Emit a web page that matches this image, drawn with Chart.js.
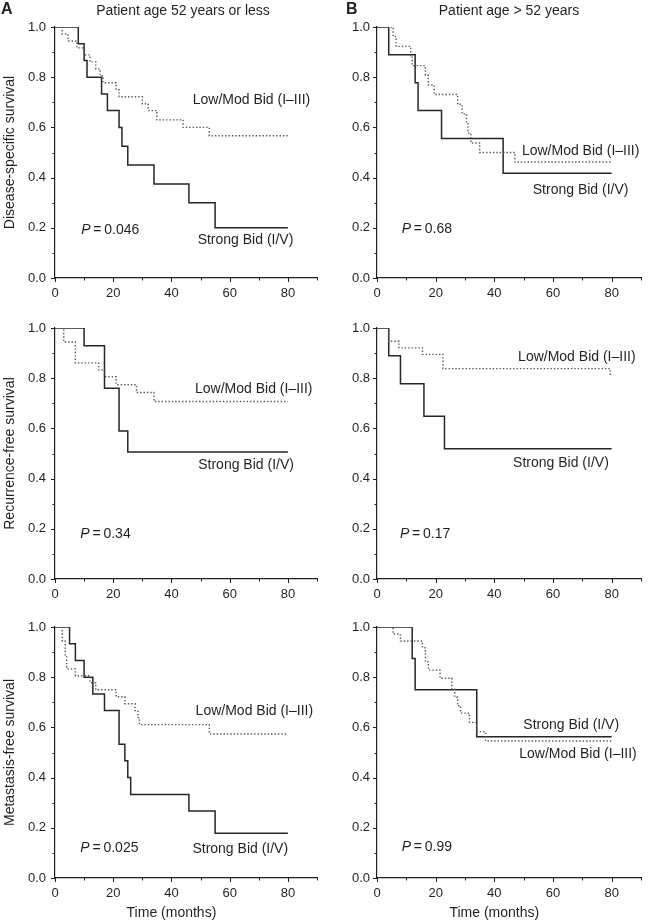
<!DOCTYPE html>
<html>
<head>
<meta charset="utf-8">
<script src="https://cdn.jsdelivr.net/npm/chart.js@4.4.1/dist/chart.umd.min.js"></script>
<style>
  body { margin: 0; background: #fff; }
  #wrap { position: relative; width: 649px; height: 924px; }
  canvas { position: absolute; }
</style>
</head>
<body>
<div id="wrap">
  <canvas id="dssYoung" width="325" height="300" style="left:0;top:0"></canvas>
  <canvas id="dssOld" width="324" height="300" style="left:325px;top:0"></canvas>
  <canvas id="rfsYoung" width="325" height="300" style="left:0;top:300px"></canvas>
  <canvas id="rfsOld" width="324" height="300" style="left:325px;top:300px"></canvas>
  <canvas id="mfsYoung" width="325" height="324" style="left:0;top:600px"></canvas>
  <canvas id="mfsOld" width="324" height="324" style="left:325px;top:600px"></canvas>
</div>
<script>
// survival curves, time in months / survival fraction
var dssYoungStrongT = [0, 8, 10, 11, 16, 18, 22, 23, 25, 34, 46, 55, 80];
var dssYoungStrongS = [1, 0.933, 0.867, 0.8, 0.733, 0.667, 0.6, 0.525, 0.45, 0.375, 0.3, 0.2, 0.2];
var dssYoungLowT = [0, 2.5, 4.5, 7.5, 10, 12, 14, 15.5, 16.5, 21, 22, 30, 32, 35, 44, 53, 80];
var dssYoungLowS = [1, 0.972, 0.944, 0.917, 0.889, 0.861, 0.833, 0.806, 0.778, 0.75, 0.722, 0.694, 0.667, 0.63, 0.6, 0.567, 0.567];

var dssOldStrongT = [0, 4, 13, 14, 22, 43, 80];
var dssOldStrongS = [1, 0.889, 0.778, 0.667, 0.556, 0.417, 0.417];
var dssOldLowT = [0, 5.5, 6.5, 11.5, 12, 16.5, 17.5, 19.5, 27.5, 29, 30.5, 31, 32, 35, 47, 80];
var dssOldLowS = [1, 0.962, 0.923, 0.885, 0.846, 0.808, 0.769, 0.731, 0.692, 0.654, 0.615, 0.577, 0.538, 0.5, 0.462, 0.462];

var rfsYoungStrongT = [0, 10, 17, 22, 25, 80];
var rfsYoungStrongS = [1, 0.929, 0.76, 0.59, 0.506, 0.506];
var rfsYoungLowT = [0, 3, 7, 15, 17, 21, 28, 34, 80];
var rfsYoungLowS = [1, 0.944, 0.861, 0.833, 0.806, 0.774, 0.743, 0.707, 0.707];

var rfsOldStrongT = [0, 4, 8, 16, 23, 80];
var rfsOldStrongS = [1, 0.889, 0.778, 0.648, 0.519, 0.519];
var rfsOldLowT = [0, 4, 7.5, 15.5, 22.5, 79.5, 80];
var rfsOldLowS = [1, 0.947, 0.921, 0.895, 0.838, 0.81, 0.81];

var mfsYoungStrongT = [0, 5, 7, 10, 13, 17, 22, 24, 25, 26, 46, 55, 80];
var mfsYoungStrongS = [1, 0.933, 0.867, 0.8, 0.733, 0.667, 0.533, 0.467, 0.4, 0.333, 0.267, 0.178, 0.178];
var mfsYoungLowT = [0, 2.5, 3.5, 4, 7, 12, 14, 21, 24, 27.5, 28.5, 29, 53, 80];
var mfsYoungLowS = [1, 0.944, 0.889, 0.833, 0.806, 0.778, 0.75, 0.722, 0.694, 0.667, 0.639, 0.611, 0.574, 0.574];

var mfsOldStrongT = [0, 12, 13, 34, 80];
var mfsOldStrongS = [1, 0.875, 0.75, 0.5625, 0.5625];
var mfsOldLowT = [0, 5.5, 8, 15.5, 16.5, 17.5, 21.5, 25.5, 26.5, 27.5, 28.5, 31.5, 34, 37, 80];
var mfsOldLowS = [1, 0.972, 0.944, 0.917, 0.861, 0.828, 0.796, 0.752, 0.72, 0.686, 0.657, 0.62, 0.583, 0.546, 0.546];

var pValues = ["0.046", "0.68", "0.34", "0.17", "0.025", "0.99"];
var xTickLabels = [0, 20, 40, 60, 80];

var FONT = '"Liberation Sans", Arial, Helvetica, sans-serif';
var INK = "#231f20";
Chart.defaults.font.family = FONT;
Chart.defaults.color = INK;

function toPoints(times, values) {
  return times.map(function(t, i) { return { x: t, y: values[i] }; });
}

// short minor ticks, longer major ticks, all pointing outward
var axisTicks = {
  id: "axisTicks",
  afterDraw: function(chart) {
    var ctx = chart.ctx, xs = chart.scales.x, ys = chart.scales.y;
    ctx.save();
    ctx.strokeStyle = INK;
    ctx.lineWidth = 1;
    ctx.beginPath();
    xs.ticks.forEach(function(t) {
      var px = Math.round(xs.getPixelForValue(t.value)) + 0.5;
      var len = xTickLabels.indexOf(t.value) !== -1 ? 4 : 2.5;
      ctx.moveTo(px, xs.top);
      ctx.lineTo(px, xs.top + len);
    });
    ys.ticks.forEach(function(t) {
      var py = Math.round(ys.getPixelForValue(t.value)) + 0.5;
      var len = Math.round(t.value * 10) % 2 === 0 ? 4 : 2.5;
      ctx.moveTo(ys.right, py);
      ctx.lineTo(ys.right - len, py);
    });
    ctx.stroke();
    ctx.restore();
  }
};

var panelText = {
  id: "panelText",
  afterDatasetsDraw: function(chart, args, opts) {
    var ctx = chart.ctx, xs = chart.scales.x, ys = chart.scales.y, area = chart.chartArea;
    ctx.save();
    ctx.fillStyle = INK;
    ctx.textBaseline = "middle";
    ctx.textAlign = "left";
    ctx.font = "bold 16px " + FONT;
    ctx.fillText(opts.letter || "", opts.letterX, 10);
    ctx.font = "14px " + FONT;
    if (opts.title) {
      ctx.textAlign = "center";
      ctx.fillText(opts.title, opts.titleX, 11);
    }
    if (opts.xTitle) {
      ctx.textAlign = "center";
      ctx.fillText(opts.xTitle, xs.getPixelForValue(40), area.bottom + 35);
    }
    if (opts.yTitle) {
      ctx.save();
      ctx.translate(10, (area.top + area.bottom) / 2);
      ctx.rotate(-Math.PI / 2);
      ctx.textAlign = "center";
      ctx.fillText(opts.yTitle, 0, 0);
      ctx.restore();
    }
    ctx.textAlign = "left";
    opts.labels.forEach(function(l) {
      ctx.fillText(l.text, xs.getPixelForValue(l.x), ys.getPixelForValue(l.y));
    });
    var px = xs.getPixelForValue(opts.p.x), py = ys.getPixelForValue(opts.p.y);
    ctx.font = "italic 14px " + FONT;
    ctx.fillText("P", px, py);
    var w = ctx.measureText("P").width;
    ctx.font = "14px " + FONT;
    ctx.fillText("\u2009=\u2009" + opts.p.value, px + w, py);
    ctx.restore();
  }
};

function makePanel(id, cfg) {
  var canvas = document.getElementById(id);
  var h = canvas.height;
  return new Chart(canvas, {
    type: "line",
    data: {
      datasets: [{
        label: "Low/Mod Bid (I\u2013III)",
        data: toPoints(cfg.lowT, cfg.lowS),
        stepped: true,
        borderColor: "#555555",
        borderWidth: 1.4,
        borderDash: [1.4, 2],
        pointRadius: 0,
        fill: false
      }, {
        label: "Strong Bid (I/V)",
        data: toPoints(cfg.strongT, cfg.strongS),
        stepped: true,
        borderColor: "#262626",
        borderWidth: 1.5,
        pointRadius: 0,
        fill: false
      }]
    },
    options: {
      responsive: false,
      animation: false,
      events: [],
      layout: { padding: { top: cfg.top, left: 0, right: cfg.right, bottom: 0 } },
      plugins: {
        legend: { display: false },
        tooltip: { enabled: false },
        panelText: cfg.text
      },
      scales: {
        x: {
          type: "linear",
          min: 0,
          max: 90,
          grid: { display: false, drawTicks: false },
          border: { display: true, color: INK, width: 1.2 },
          ticks: {
            stepSize: 10,
            autoSkip: false,
            maxRotation: 0,
            padding: 8,
            font: { size: 13 },
            callback: function(v) { return xTickLabels.indexOf(v) !== -1 ? String(v) : ""; }
          },
          afterFit: function(scale) { scale.height = h - cfg.bottom; }
        },
        y: {
          min: 0,
          max: 1,
          grid: { display: false, drawTicks: false },
          border: { display: true, color: INK, width: 1.2 },
          ticks: {
            stepSize: 0.1,
            autoSkip: false,
            padding: cfg.labelGap,
            font: { size: 13 },
            callback: function(v) { return Math.round(v * 10) % 2 === 0 ? v.toFixed(1) : ""; }
          },
          afterFit: function(scale) { scale.width = cfg.left; }
        }
      }
    },
    plugins: [axisTicks, panelText]
  });
}

var leftCol = { left: 55, right: 0, labelGap: 9 };
var rightCol = { left: 52, right: 2, labelGap: 7 };

function panel(col, extra) {
  var out = {};
  Object.keys(col).forEach(function(k) { out[k] = col[k]; });
  Object.keys(extra).forEach(function(k) { out[k] = extra[k]; });
  return out;
}

var lowLabel = "Low/Mod Bid (I\u2013III)";
var strongLabel = "Strong Bid (I/V)";

makePanel("dssYoung", panel(leftCol, {
  top: 27, bottom: 278,
  strongT: dssYoungStrongT, strongS: dssYoungStrongS, lowT: dssYoungLowT, lowS: dssYoungLowS,
  text: {
    letter: "A", letterX: 1, title: "Patient age 52 years or less", titleX: 183,
    yTitle: "Disease-specific survival",
    labels: [{ text: lowLabel, x: 47.3, y: 0.708 }, { text: strongLabel, x: 49, y: 0.15 }],
    p: { x: 9, y: 0.19, value: pValues[0] }
  }
}));

makePanel("dssOld", panel(rightCol, {
  top: 27, bottom: 278,
  strongT: dssOldStrongT, strongS: dssOldStrongS, lowT: dssOldLowT, lowS: dssOldLowS,
  text: {
    letter: "B", letterX: 21, title: "Patient age > 52 years", titleX: 184,
    labels: [{ text: lowLabel, x: 49.4, y: 0.505 }, { text: strongLabel, x: 53.1, y: 0.352 }],
    p: { x: 8.4, y: 0.193, value: pValues[1] }
  }
}));

makePanel("rfsYoung", panel(leftCol, {
  top: 28, bottom: 279,
  strongT: rfsYoungStrongT, strongS: rfsYoungStrongS, lowT: rfsYoungLowT, lowS: rfsYoungLowS,
  text: {
    yTitle: "Recurrence-free survival",
    labels: [{ text: lowLabel, x: 48.1, y: 0.755 }, { text: strongLabel, x: 49.2, y: 0.454 }],
    p: { x: 8.7, y: 0.179, value: pValues[2] }
  }
}));

makePanel("rfsOld", panel(rightCol, {
  top: 28, bottom: 279,
  strongT: rfsOldStrongT, strongS: rfsOldStrongS, lowT: rfsOldLowT, lowS: rfsOldLowS,
  text: {
    labels: [{ text: lowLabel, x: 48.1, y: 0.882 }, { text: strongLabel, x: 46.4, y: 0.46 }],
    p: { x: 7.8, y: 0.177, value: pValues[3] }
  }
}));

makePanel("mfsYoung", panel(leftCol, {
  top: 27, bottom: 278,
  strongT: mfsYoungStrongT, strongS: mfsYoungStrongS, lowT: mfsYoungLowT, lowS: mfsYoungLowS,
  text: {
    yTitle: "Metastasis-free survival", xTitle: "Time (months)",
    labels: [{ text: lowLabel, x: 48.3, y: 0.665 }, { text: strongLabel, x: 47.2, y: 0.115 }],
    p: { x: 8.7, y: 0.119, value: pValues[4] }
  }
}));

makePanel("mfsOld", panel(rightCol, {
  top: 27, bottom: 278,
  strongT: mfsOldStrongT, strongS: mfsOldStrongS, lowT: mfsOldLowT, lowS: mfsOldLowS,
  text: {
    xTitle: "Time (months)",
    labels: [{ text: strongLabel, x: 49.9, y: 0.609 }, { text: lowLabel, x: 48.5, y: 0.493 }],
    p: { x: 8.4, y: 0.123, value: pValues[5] }
  }
}));
</script>
</body>
</html>
